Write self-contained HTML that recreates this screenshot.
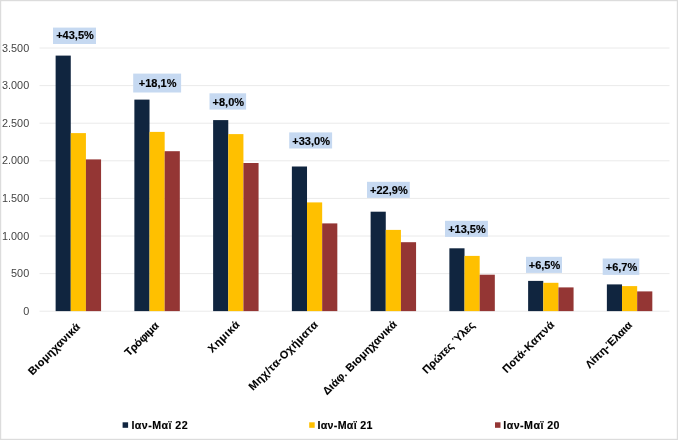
<!DOCTYPE html>
<html lang="el"><head><meta charset="utf-8"><title>Chart</title>
<style>
html,body{margin:0;padding:0;background:#fff;}
svg{display:block;font-family:"Liberation Sans",sans-serif;}
.ax{font-size:10.85px;fill:#444;}
.dl{font-size:11px;font-weight:bold;fill:#000;stroke:#000;stroke-width:0.15px;}
.xl{font-size:10.9px;font-weight:bold;fill:#000;stroke:#000;stroke-width:0.12px;letter-spacing:0.5px;}
.lg{font-size:10.67px;font-weight:bold;fill:#000;stroke:#000;stroke-width:0.15px;letter-spacing:0.45px;}
</style></head><body>
<svg width="678" height="440" viewBox="0 0 678 440">
<rect x="0" y="0" width="678" height="440" fill="#fff"/>
<rect x="0.6" y="0.6" width="676.8" height="438.8" fill="none" stroke="#dcdcdc" stroke-width="1.2"/>

<line x1="39.5" x2="669.5" y1="311.20" y2="311.20" stroke="#eaeaea" stroke-width="1"/>
<text class="ax" x="29.2" y="314.70" text-anchor="end">0</text>
<line x1="39.5" x2="669.5" y1="273.60" y2="273.60" stroke="#eaeaea" stroke-width="1"/>
<text class="ax" x="29.2" y="277.10" text-anchor="end">500</text>
<line x1="39.5" x2="669.5" y1="236.00" y2="236.00" stroke="#eaeaea" stroke-width="1"/>
<text class="ax" x="29.2" y="239.50" text-anchor="end">1.000</text>
<line x1="39.5" x2="669.5" y1="198.40" y2="198.40" stroke="#eaeaea" stroke-width="1"/>
<text class="ax" x="29.2" y="201.90" text-anchor="end">1.500</text>
<line x1="39.5" x2="669.5" y1="160.80" y2="160.80" stroke="#eaeaea" stroke-width="1"/>
<text class="ax" x="29.2" y="164.30" text-anchor="end">2.000</text>
<line x1="39.5" x2="669.5" y1="123.20" y2="123.20" stroke="#eaeaea" stroke-width="1"/>
<text class="ax" x="29.2" y="126.70" text-anchor="end">2.500</text>
<line x1="39.5" x2="669.5" y1="85.60" y2="85.60" stroke="#eaeaea" stroke-width="1"/>
<text class="ax" x="29.2" y="89.10" text-anchor="end">3.000</text>
<line x1="39.5" x2="669.5" y1="48.00" y2="48.00" stroke="#eaeaea" stroke-width="1"/>
<text class="ax" x="29.2" y="51.50" text-anchor="end">3.500</text>
<rect x="55.62" y="55.60" width="15.15" height="255.50" fill="#10253f"/>
<rect x="70.77" y="133.10" width="15.15" height="178.00" fill="#ffc000"/>
<rect x="85.92" y="159.40" width="15.15" height="151.70" fill="#943634"/>
<rect x="53.00" y="27.60" width="43.00" height="16.40" fill="#c6d9f1"/>
<text class="dl" x="75.00" y="39.20" text-anchor="middle">+43,5%</text>
<text class="xl" text-anchor="end" style="letter-spacing:0.315px" transform="translate(80.92,327.30) rotate(-45)">Βιομηχανικά</text>
<rect x="134.37" y="99.60" width="15.15" height="211.50" fill="#10253f"/>
<rect x="149.52" y="131.90" width="15.15" height="179.20" fill="#ffc000"/>
<rect x="164.67" y="151.20" width="15.15" height="159.90" fill="#943634"/>
<rect x="133.20" y="73.60" width="47.90" height="18.90" fill="#c6d9f1"/>
<text class="dl" x="157.65" y="87.00" text-anchor="middle">+18,1%</text>
<text class="xl" text-anchor="end" style="letter-spacing:-0.186px" transform="translate(159.46,326.50) rotate(-45)">Τρόφιμα</text>
<rect x="213.12" y="120.10" width="15.15" height="191.00" fill="#10253f"/>
<rect x="228.27" y="134.10" width="15.15" height="177.00" fill="#ffc000"/>
<rect x="243.42" y="163.00" width="15.15" height="148.10" fill="#943634"/>
<rect x="209.50" y="93.30" width="36.60" height="16.30" fill="#c6d9f1"/>
<text class="dl" x="228.30" y="105.60" text-anchor="middle">+8,0%</text>
<text class="xl" text-anchor="end" style="letter-spacing:0.646px" transform="translate(240.57,324.92) rotate(-45)">Χημικά</text>
<rect x="291.87" y="166.50" width="15.15" height="144.60" fill="#10253f"/>
<rect x="307.02" y="202.40" width="15.15" height="108.70" fill="#ffc000"/>
<rect x="322.17" y="223.40" width="15.15" height="87.70" fill="#943634"/>
<rect x="289.20" y="132.40" width="42.90" height="16.10" fill="#c6d9f1"/>
<text class="dl" x="311.15" y="144.60" text-anchor="middle">+33,0%</text>
<text class="xl" text-anchor="end" style="letter-spacing:0.52px" transform="translate(318.81,325.15) rotate(-45)">Μηχ/τα-Οχήματα</text>
<rect x="370.62" y="211.70" width="15.15" height="99.40" fill="#10253f"/>
<rect x="385.77" y="229.90" width="15.15" height="81.20" fill="#ffc000"/>
<rect x="400.92" y="242.20" width="15.15" height="68.90" fill="#943634"/>
<rect x="367.00" y="181.80" width="42.80" height="16.10" fill="#c6d9f1"/>
<text class="dl" x="388.90" y="194.00" text-anchor="middle">+22,9%</text>
<text class="xl" text-anchor="end" style="letter-spacing:0.213px" transform="translate(397.59,324.95) rotate(-45)">Διάφ. Βιομηχανικά</text>
<rect x="449.37" y="248.30" width="15.15" height="62.80" fill="#10253f"/>
<rect x="464.52" y="255.90" width="15.15" height="55.20" fill="#ffc000"/>
<rect x="479.67" y="274.70" width="15.15" height="36.40" fill="#943634"/>
<rect x="445.00" y="220.80" width="42.90" height="16.10" fill="#c6d9f1"/>
<text class="dl" x="466.95" y="233.00" text-anchor="middle">+13,5%</text>
<text class="xl" text-anchor="end" style="letter-spacing:-0.041px" transform="translate(475.37,325.68) rotate(-45)">Πρώτες Ύλες</text>
<rect x="528.12" y="280.90" width="15.15" height="30.20" fill="#10253f"/>
<rect x="543.27" y="282.80" width="15.15" height="28.30" fill="#ffc000"/>
<rect x="558.42" y="287.40" width="15.15" height="23.70" fill="#943634"/>
<rect x="526.00" y="256.80" width="36.00" height="16.10" fill="#c6d9f1"/>
<text class="dl" x="544.50" y="269.00" text-anchor="middle">+6,5%</text>
<text class="xl" text-anchor="end" style="letter-spacing:0.399px" transform="translate(555.15,325.12) rotate(-45)">Ποτά-Καπνά</text>
<rect x="606.87" y="284.40" width="15.15" height="26.70" fill="#10253f"/>
<rect x="622.02" y="286.10" width="15.15" height="25.00" fill="#ffc000"/>
<rect x="637.17" y="291.40" width="15.15" height="19.70" fill="#943634"/>
<rect x="602.70" y="258.50" width="36.60" height="16.40" fill="#c6d9f1"/>
<text class="dl" x="621.50" y="270.85" text-anchor="middle">+6,7%</text>
<text class="xl" text-anchor="end" style="letter-spacing:0.056px" transform="translate(632.88,325.80) rotate(-45)">Λίπη-Έλαια</text>
<rect x="122.60" y="422.3" width="5.5" height="5.5" fill="#10253f"/>
<text class="lg" style="letter-spacing:0.45px" x="131.40" y="428.8">Ιαν-Μαϊ 22</text>
<rect x="309.20" y="422.3" width="5.5" height="5.5" fill="#ffc000"/>
<text class="lg" style="letter-spacing:0.3px" x="317.50" y="428.8">Ιαν-Μαϊ 21</text>
<rect x="495.00" y="422.3" width="5.5" height="5.5" fill="#943634"/>
<text class="lg" style="letter-spacing:0.45px" x="503.30" y="428.8">Ιαν-Μαϊ 20</text>
</svg>
</body></html>
